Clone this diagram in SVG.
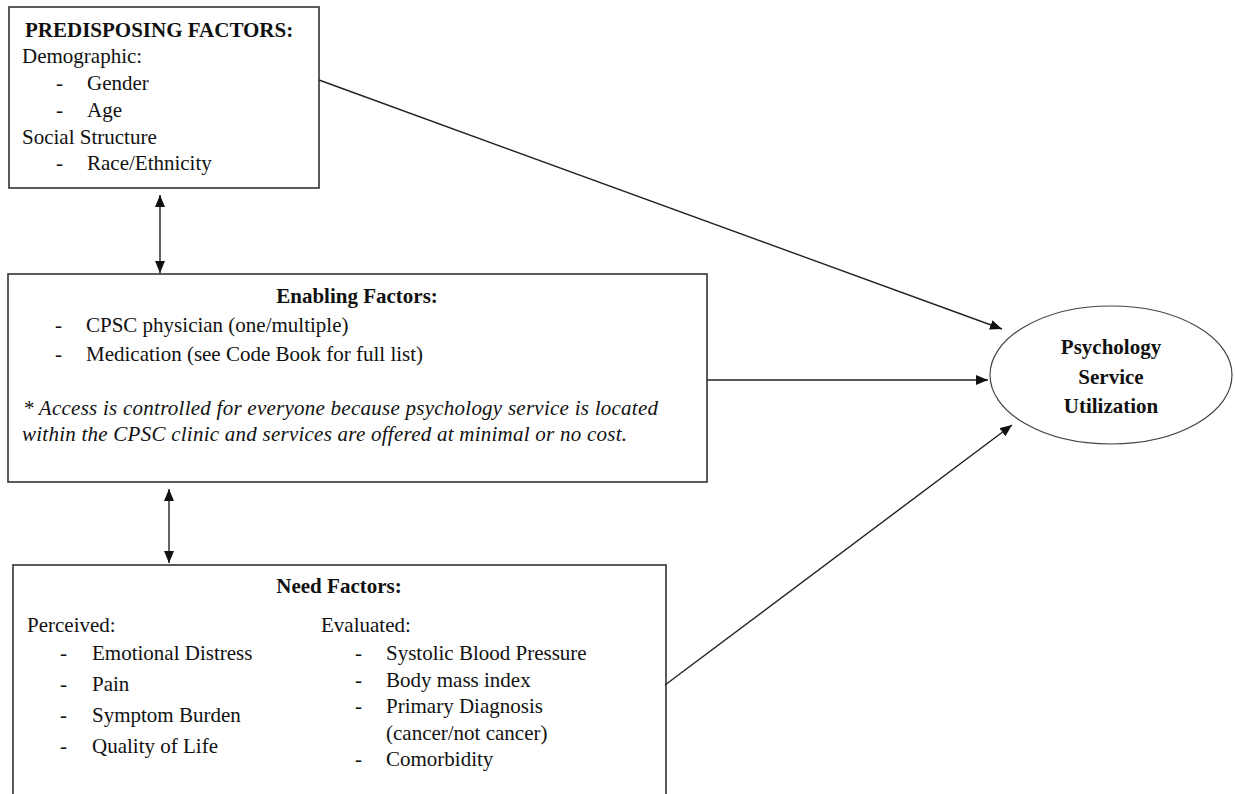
<svg xmlns="http://www.w3.org/2000/svg" width="1235" height="794" viewBox="0 0 1235 794">
<style>
  text { font-family: 'Liberation Serif', 'Times New Roman', Tinos, 'DejaVu Serif', serif; font-size: 21px; fill: #111; }
  .b { font-weight: bold; }
  .i { font-style: italic; }
  .c { text-anchor: middle; }
  .box { fill: #fff; stroke: #333; stroke-width: 1.6; }
  .ell { fill: #fff; stroke: #444; stroke-width: 1.2; }
  .con { stroke: #222; stroke-width: 1.4; fill: none; marker-end: url(#ah); }
  .dbl { marker-start: url(#ah); }
</style>
<defs>
  <marker id="ah" markerUnits="userSpaceOnUse" markerWidth="13" markerHeight="11" refX="12" refY="5" orient="auto-start-reverse">
    <path d="M0,0 L12,5 L0,10 z" fill="#111"/>
  </marker>
</defs>
<rect width="1235" height="794" fill="#fff"/>

<g id="predisposing">
  <rect class="box" x="9" y="7" width="310" height="181"/>
  <text class="b" x="25" y="37">PREDISPOSING FACTORS:</text>
  <text x="22" y="63">Demographic:</text>
  <text x="56" y="90">-</text><text x="87" y="90">Gender</text>
  <text x="56" y="117">-</text><text x="87" y="117">Age</text>
  <text x="22" y="144">Social Structure</text>
  <text x="56" y="170">-</text><text x="87" y="170">Race/Ethnicity</text>
</g>

<g id="enabling">
  <rect class="box" x="8" y="274" width="699" height="208"/>
  <text class="b c" x="357" y="303">Enabling Factors:</text>
  <text x="55" y="332">-</text><text x="86" y="332">CPSC physician (one/multiple)</text>
  <text x="55" y="361">-</text><text x="86" y="361">Medication (see Code Book for full list)</text>
  <text class="i" x="23" y="415" textLength="635" lengthAdjust="spacing">* Access is controlled for everyone  because psychology service is located</text>
  <text class="i" x="22" y="441" textLength="605" lengthAdjust="spacing">within the CPSC clinic and services  are offered at minimal or no cost.</text>
</g>

<g id="need">
  <rect class="box" x="13" y="565" width="653" height="240"/>
  <text class="b c" x="339" y="593">Need Factors:</text>
  <text x="27" y="632">Perceived:</text>
  <text x="60" y="660">-</text><text x="92" y="660">Emotional Distress</text>
  <text x="60" y="691">-</text><text x="92" y="691">Pain</text>
  <text x="60" y="722">-</text><text x="92" y="722">Symptom Burden</text>
  <text x="60" y="753">-</text><text x="92" y="753">Quality of Life</text>
  <text x="321" y="632">Evaluated:</text>
  <text x="355" y="660">-</text><text x="386" y="660">Systolic Blood Pressure</text>
  <text x="355" y="687">-</text><text x="386" y="687">Body mass index</text>
  <text x="355" y="713">-</text><text x="386" y="713">Primary Diagnosis</text>
  <text x="386" y="740">(cancer/not cancer)</text>
  <text x="355" y="766">-</text><text x="386" y="766">Comorbidity</text>
</g>

<g id="utilization">
  <ellipse class="ell" cx="1111" cy="375" rx="121" ry="69"/>
  <text class="b c" x="1111" y="354">Psychology</text>
  <text class="b c" x="1111" y="384">Service</text>
  <text class="b c" x="1111" y="413">Utilization</text>
</g>

<g id="connectors">
  <line class="con" x1="319" y1="80" x2="1002" y2="329"/>
  <line class="con" x1="707" y1="380" x2="988" y2="380"/>
  <line class="con" x1="665" y1="685" x2="1012" y2="425"/>
  <line class="con dbl" x1="160" y1="195" x2="160" y2="273"/>
  <line class="con dbl" x1="169" y1="489" x2="169" y2="563"/>
</g>
</svg>
